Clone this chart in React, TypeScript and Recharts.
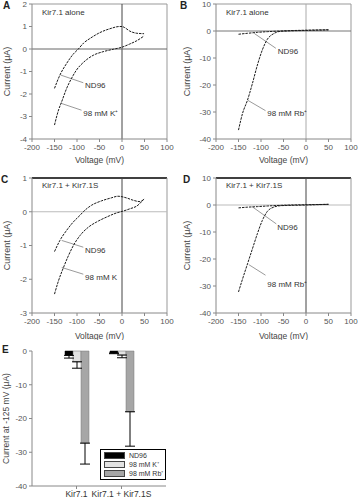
import React from "react";
import {
  LineChart,
  Line,
  XAxis,
  YAxis,
  ReferenceLine,
  ReferenceDot,
  BarChart,
  Bar,
  ErrorBar,
  Legend,
} from "recharts";

const voltTicks = [-200, -150, -100, -50, 0, 50, 100];

// A: Kir7.1 alone, ND96 and 98 mM K+
const aNdV = [-150, -138, -123, -108, -97, -85, -71, -49, -27, -5, 0, 6, 17, 33, 49];
const aNdI = [-1.75, -1.16, -0.64, -0.22, 0.0, 0.27, 0.47, 0.73, 0.9, 1.0, 1.0, 0.95, 0.8, 0.7, 0.68];
const aKV = [-150, -141, -134, -123, -112, -101, -86, -64, -42, -19, 0, 17, 33, 49];
const aKI = [-3.38, -2.71, -2.34, -1.75, -1.3, -0.93, -0.6, -0.28, -0.12, -0.01, 0.08, 0.22, 0.37, 0.58];

// B: Kir7.1 alone, ND96 and 98 mM Rb+
const bNdV = [-150, -130, -108, -86, -56, 0, 50];
const bNdI = [-1.2, -0.85, -0.5, -0.25, 0, 0.3, 0.45];
const bRbV = [-150, -141, -130, -119, -108, -97, -86, -71, -56, 0, 50];
const bRbI = [-36.7, -30.5, -25.6, -19.4, -12.6, -7, -3.1, -0.9, -0.1, 0.2, 0.4];

// C: Kir7.1 + Kir7.1S, ND96 and 98 mM K
const cNdV = [-150, -138, -123, -108, -93, -86, -68, -46, -24, -9, 10, 25, 40, 49];
const cNdI = [-1.18, -0.85, -0.55, -0.3, -0.1, 0, 0.19, 0.32, 0.41, 0.46, 0.41, 0.34, 0.3, 0.38];
const cKV = [-150, -141, -130, -119, -108, -93, -74, -56, -33, -11, 0, 18, 33, 49];
const cKI = [-2.44, -2.04, -1.65, -1.3, -1.0, -0.7, -0.45, -0.3, -0.15, -0.03, 0.01, 0.09, 0.17, 0.38];

// D: Kir7.1 + Kir7.1S, ND96 and 98 mM Rb+
const dNdV = [-150, -130, -108, -86, -56, 0, 50];
const dNdI = [-1.07, -0.8, -0.6, -0.37, -0.12, 0.1, 0.25];
const dRbV = [-150, -141, -130, -119, -108, -97, -86, -71, -56, 0, 50];
const dRbI = [-32.2, -27.4, -21.8, -16.2, -10.6, -5.7, -2.4, -0.75, -0.25, 0, 0.25];

// E: current at -125 mV
const groups = ["Kir7.1", "Kir7.1 + Kir7.1S"];
const seriesNames = ["ND96", "98 mM K⁺", "98 mM Rb⁺"];
const nd96 = [-1.3, -0.6];
const nd96Err = [0.8, 0.2];
const k98 = [-3.2, -1.2];
const k98Err = [1.9, 0.8];
const rb98 = [-27.3, -18.0];
const rb98Err = [6.2, 10.2];

const pts = (v: number[], i: number[]) => v.map((x, n) => ({ v: x, i: i[n] }));

const barData = groups.map((g, n) => ({
  name: g,
  nd: nd96[n],
  ndErr: [nd96Err[n], 0],
  k: k98[n],
  kErr: [k98Err[n], 0],
  rb: rb98[n],
  rbErr: [rb98Err[n], 0],
}));

const font = "'Liberation Sans', Arial, sans-serif";
const tickStyle = { fontSize: 8, fill: "#555" };

type Note = { text: string; tx: number; ty: number; ax: number; ay: number; bx: number; by: number };

function IVPanel(props: {
  left: number;
  top: number;
  width: number;
  yWidth: number;
  curves: { v: number; i: number }[][];
  yDomain: [number, number];
  yTicks: number[];
  notes: Note[];
  title: string;
  vColor: string;
  hColor: string;
  borderColor: string;
  xLabelOffset: number;
}) {
  const { left, top, width, yWidth, curves, yDomain, yTicks, notes, vColor, hColor, borderColor } = props;
  return (
    <div style={{ position: "absolute", left, top }}>
      <LineChart width={width} height={166} margin={{ top: 4, right: width - yWidth - 135, bottom: 0, left: 0 }}>
        <XAxis
          type="number"
          dataKey="v"
          domain={[-200, 100]}
          ticks={voltTicks}
          allowDataOverflow
          height={27}
          tickSize={3}
          tick={tickStyle}
          stroke="#888"
          label={{ value: "Voltage (mV)", position: "insideBottom", offset: props.xLabelOffset, fontSize: 8.5, fill: "#444" }}
        />
        <YAxis
          type="number"
          dataKey="i"
          domain={yDomain}
          ticks={yTicks}
          allowDataOverflow
          width={yWidth}
          tickSize={3}
          tick={tickStyle}
          stroke="#888"
          label={{
            value: "Current (μA)",
            angle: -90,
            position: "insideLeft",
            offset: 7,
            fontSize: 9,
            fill: "#444",
            style: { textAnchor: "middle" },
          }}
        />
        <ReferenceLine y={yDomain[1]} stroke={borderColor} strokeWidth={borderColor === "#000" ? 1.5 : 1} />
        <ReferenceLine x={100} stroke="#999" />
        <ReferenceLine x={0} stroke={vColor} />
        <ReferenceLine y={0} stroke={hColor} />
        {notes.map((n) => (
          <ReferenceLine
            key={n.text + "l"}
            segment={[
              { x: n.ax, y: n.ay },
              { x: n.bx, y: n.by },
            ]}
            stroke="#555"
            strokeWidth={0.6}
          />
        ))}
        {notes.map((n) => (
          <ReferenceDot
            key={n.text + "t"}
            x={n.tx}
            y={n.ty}
            r={0}
            stroke="none"
            label={{ value: n.text, position: "right", offset: 0, fontSize: 8, fill: "#333" }}
          />
        ))}
        {curves.map((c, n) => (
          <Line
            key={n}
            data={c}
            dataKey="i"
            type="monotone"
            dot={false}
            stroke="#1a1a1a"
            strokeWidth={1}
            strokeDasharray="2.5 1"
            isAnimationActive={false}
          />
        ))}
      </LineChart>
      <div style={{ position: "absolute", left: yWidth + 10, top: props.title.length > 14 ? 7 : 8, fontSize: 8, color: "#333" }}>
        {props.title}
      </div>
    </div>
  );
}

const LegendBox = (p: any) => {
  const items = [...(p.payload || [])].sort(
    (a: any, b: any) => seriesNames.indexOf(a.value) - seriesNames.indexOf(b.value)
  );
  return (
    <div style={{ border: "1px solid #000", background: "#fff", width: 61, padding: "1px 0 1px 3px" }}>
      {items.map((e: any) => (
        <div key={e.value} style={{ display: "flex", alignItems: "center", height: 9, fontSize: 7, color: "#333", whiteSpace: "nowrap" }}>
          <span style={{ display: "inline-block", width: 19, height: 5, background: e.color, border: "0.5px solid #444", marginRight: 4 }} />
          {e.value}
        </div>
      ))}
    </div>
  );
};

const letter = (t: string, left: number, top: number) => (
  <div style={{ position: "absolute", left, top, fontSize: 10, fontWeight: "bold", color: "#222" }}>{t}</div>
);

export default function App() {
  return (
    <div style={{ position: "absolute", left: 0, top: 0, width: 358, height: 499, background: "#fff", fontFamily: font }}>
      <IVPanel
        left={0}
        top={0}
        width={176}
        yWidth={32}
        curves={[pts(aNdV, aNdI), pts(aKV, aKI)]}
        yDomain={[-4, 2]}
        yTicks={[-4, -3, -2, -1, 0, 1, 2]}
        notes={[
          { text: "ND96", tx: -82, ty: -1.62, ax: -86, ay: -1.5, bx: -136, by: -1.16 },
          { text: "98 mM K⁺", tx: -86, ty: -2.85, ax: -90, ay: -2.72, bx: -136, by: -2.41 },
        ]}
        title="Kir7.1 alone"
        vColor="#444"
        hColor="#666"
        borderColor="#999"
        xLabelOffset={3}
      />
      <IVPanel
        left={180}
        top={0}
        width={178}
        yWidth={36}
        curves={[pts(bNdV, bNdI), pts(bRbV, bRbI)]}
        yDomain={[-40, 10]}
        yTicks={[-40, -30, -20, -10, 0, 10]}
        notes={[
          { text: "ND96", tx: -63, ty: -7.3, ax: -67, ay: -6.4, bx: -115, by: -0.9 },
          { text: "98 mM Rb⁺", tx: -86, ty: -30.5, ax: -90, ay: -29.5, bx: -130, by: -25.6 },
        ]}
        title="Kir7.1 alone"
        vColor="#aaa"
        hColor="#777"
        borderColor="#999"
        xLabelOffset={3}
      />
      <IVPanel
        left={0}
        top={174}
        width={176}
        yWidth={32}
        curves={[pts(cNdV, cNdI), pts(cKV, cKI)]}
        yDomain={[-3, 1]}
        yTicks={[-3, -2, -1, 0, 1]}
        notes={[
          { text: "ND96", tx: -82, ty: -1.15, ax: -86, ay: -1.05, bx: -134, by: -0.85 },
          { text: "98 mM K", tx: -82, ty: -1.95, ax: -86, ay: -1.85, bx: -134, by: -1.65 },
        ]}
        title="Kir7.1 + Kir7.1S"
        vColor="#444"
        hColor="#bbb"
        borderColor="#000"
        xLabelOffset={1}
      />
      <IVPanel
        left={180}
        top={174}
        width={178}
        yWidth={36}
        curves={[pts(dNdV, dNdI), pts(dRbV, dRbI)]}
        yDomain={[-40, 10]}
        yTicks={[-40, -30, -20, -10, 0, 10]}
        notes={[
          { text: "ND96", tx: -64, ty: -8.2, ax: -66, ay: -7, bx: -119, by: -0.7 },
          { text: "98 mM Rb⁺", tx: -86, ty: -29.3, ax: -90, ay: -26, bx: -127, by: -22.1 },
        ]}
        title="Kir7.1 + Kir7.1S"
        vColor="#444"
        hColor="#bbb"
        borderColor="#000"
        xLabelOffset={1}
      />
      <div style={{ position: "absolute", left: 0, top: 340 }}>
        <BarChart width={176} height={159} data={barData} margin={{ top: 11, right: 10, bottom: 0, left: 0 }} barSize={8} barGap={0}>
          <XAxis
            dataKey="name"
            height={13}
            tickSize={3}
            padding={{ left: 22, right: 22 }}
            tick={{ fontSize: 8.5, fill: "#333" }}
            stroke="#888"
            interval={0}
          />
          <YAxis
            type="number"
            domain={[-40, 0]}
            ticks={[-40, -30, -20, -10, 0]}
            width={32}
            tickSize={3}
            tick={tickStyle}
            stroke="#888"
            label={{
              value: "Current at -125 mV (μA)",
              angle: -90,
              position: "insideLeft",
              offset: 6,
              fontSize: 8.5,
              fill: "#444",
              style: { textAnchor: "middle" },
            }}
          />
          <YAxis yAxisId="edge" orientation="right" width={0} tick={false} tickLine={false} stroke="#999" domain={[-40, 0]} />
          <Legend
            content={LegendBox}
            layout="vertical"
            align="center"
            verticalAlign="middle"
            wrapperStyle={{ position: "absolute", left: 100, top: 109, width: 65 }}
          />
          <Bar dataKey="nd" name={seriesNames[0]} fill="#000" stroke="#000" strokeWidth={0.5} isAnimationActive={false}>
            <ErrorBar dataKey="ndErr" width={5} stroke="#000" strokeWidth={1} />
          </Bar>
          <Bar dataKey="k" name={seriesNames[1]} fill="#e2e2e2" stroke="#666" strokeWidth={0.5} isAnimationActive={false}>
            <ErrorBar dataKey="kErr" width={5} stroke="#000" strokeWidth={1} />
          </Bar>
          <Bar dataKey="rb" name={seriesNames[2]} fill="#a6a6a6" stroke="#777" strokeWidth={0.5} isAnimationActive={false}>
            <ErrorBar dataKey="rbErr" width={5} stroke="#000" strokeWidth={1} />
          </Bar>
        </BarChart>
      </div>
      {letter("A", 3, 0)}
      {letter("B", 180, 0)}
      {letter("C", 1, 174)}
      {letter("D", 183, 174)}
      {letter("E", 2, 344)}
    </div>
  );
}
